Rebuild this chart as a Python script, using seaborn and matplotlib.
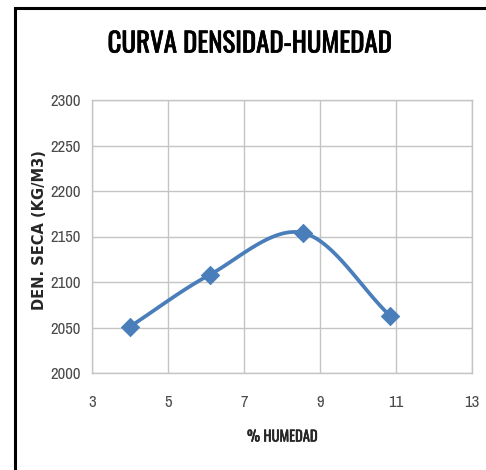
import numpy as np
import pandas as pd
import seaborn as sns
import matplotlib
matplotlib.use("Agg")
import matplotlib.pyplot as plt
import matplotlib.patheffects as pe
from matplotlib.patches import Rectangle

humedad = [4.0, 6.1, 8.55, 10.84]
densidad = [2051, 2108, 2154, 2063]
x_ticks = [3, 5, 7, 9, 11, 13]
y_ticks = [2000, 2050, 2100, 2150, 2200, 2250, 2300]

df = pd.DataFrame({"humedad": humedad, "densidad": densidad})

sns.set_style("white")
title_font = ["Oswald", "DejaVu Sans"]
tick_font = ["Archivo Narrow", "DejaVu Sans"]

W, H = 486, 470
fig = plt.figure(figsize=(W / 100, H / 100), dpi=100)
ax = fig.add_axes([92 / W, 1 - 373 / H, (472 - 92) / W, (373 - 100) / H])

# smoothed curve (Bezier smoothing like a spreadsheet "smoothed line")
def smooth(xs, ys, n=40):
    P = np.column_stack([np.array(xs, float), np.array(ys, float)])
    P = np.vstack([P[0] - (P[1] - P[0]), P, P[-1] + (P[-1] - P[-2])])
    out = []
    for i in range(1, len(P) - 2):
        p0, p1, p2, p3 = P[i - 1], P[i], P[i + 1], P[i + 2]
        b1 = p1 + (p2 - p0) / 6.0
        b2 = p2 - (p3 - p1) / 6.0
        t = np.linspace(0, 1, n)[:, None]
        seg = (1 - t) ** 3 * p1 + 3 * (1 - t) ** 2 * t * b1 + 3 * (1 - t) * t ** 2 * b2 + t ** 3 * p2
        out.append(seg)
    s = np.vstack(out)
    return s[:, 0], s[:, 1]

sx, sy = smooth(humedad, densidad)
blue = "#4a7ebb"
ax.plot(sx, sy, color=blue, lw=2.7, zorder=3, solid_capstyle="round")
sns.scatterplot(data=df, x="humedad", y="densidad", ax=ax, marker="D",
                s=85, color=blue, edgecolor=blue, zorder=4)

ax.set_xlim(3, 13)
ax.set_ylim(2000, 2300)
ax.set_xticks(x_ticks)
ax.set_yticks(y_ticks)
ax.set_xticklabels([str(v) for v in x_ticks], family=tick_font, fontsize=12, color="#4a4a4a")
ax.set_yticklabels([str(v) for v in y_ticks], family=tick_font, fontsize=12, color="#4a4a4a")
ax.tick_params(axis="x", pad=16, length=0)
ax.tick_params(axis="y", pad=8, length=0)
ax.grid(True, color="#c4c4c4", lw=1)
for sp in ax.spines.values():
    sp.set_color("#c4c4c4")
    sp.set_linewidth(1)
ax.set_axisbelow(True)

ax.set_xlabel("% HUMEDAD", family=title_font, fontweight="bold", fontsize=10.5)
ax.xaxis.label.set_path_effects([pe.withStroke(linewidth=0.3, foreground="black")])
ax.xaxis.set_label_coords((248 - 92) / (472 - 92) + 0.09, -(437 - 373) / (373 - 100), transform=ax.transAxes)
ax.xaxis.label.set_va("center")
ax.set_ylabel("DEN. SECA (KG/M3)", family="DejaVu Sans", fontweight="bold", fontsize=10.5)
ax.yaxis.set_label_coords(-(92 - 40) / (472 - 92), (373 - 230) / (373 - 100), transform=ax.transAxes)
ax.yaxis.label.set_va("center")

fig.text(250 / W, 1 - 44 / H, "CURVA DENSIDAD-HUMEDAD", family=title_font, fontweight="bold",
         fontsize=19.4, ha="center", va="center", color="black",
         path_effects=[pe.withStroke(linewidth=0.5, foreground="black")])

fig.patches.append(Rectangle((15 / W, -0.02), 1.0, 1.02 - 8 / H,
                             transform=fig.transFigure, fill=False,
                             edgecolor="black", lw=2.2))

fig.savefig("out.png", dpi=100)
